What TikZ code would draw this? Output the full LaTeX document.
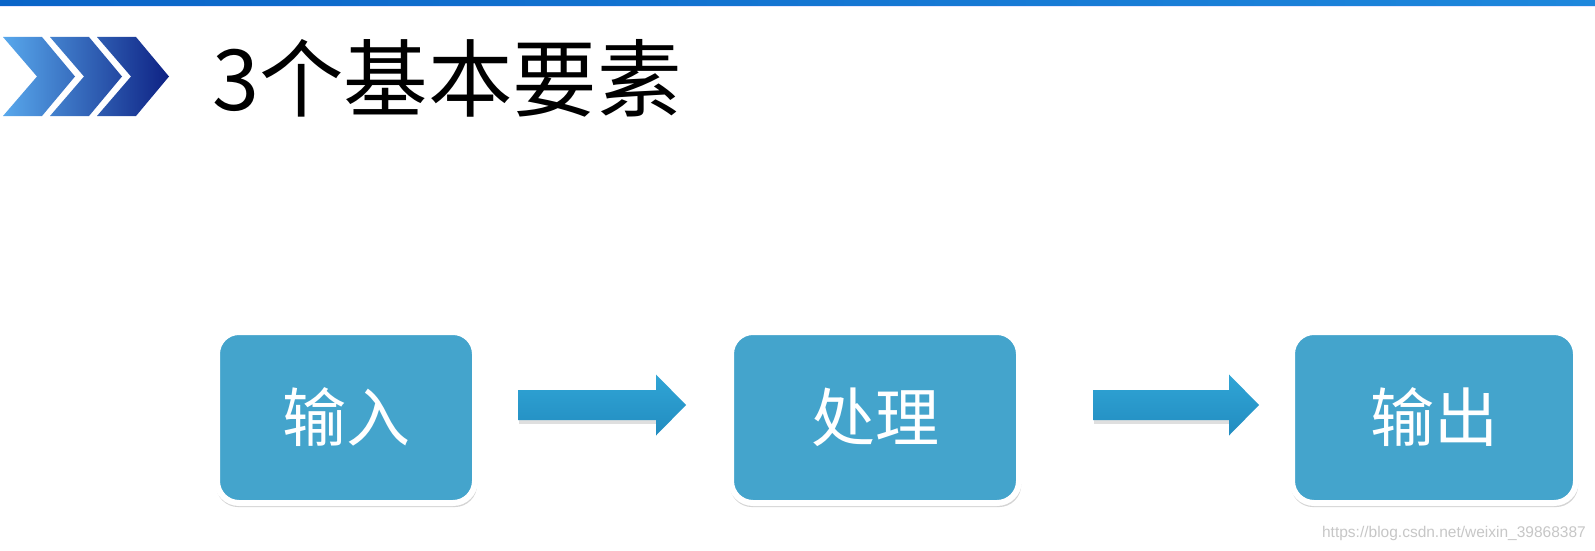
\documentclass[tikz,border=0pt]{standalone}
\usepackage{fontspec}
\newfontfamily\cjk{Noto Sans CJK SC}
\newfontfamily\wm{Liberation Sans}
\usetikzlibrary{shadows,calc}
\definecolor{boxblue}{RGB}{68,164,204}
\definecolor{arrowtop}{RGB}{48,165,214}
\definecolor{arrowbot}{RGB}{34,140,192}
\definecolor{barA}{RGB}{10,100,200}
\definecolor{barB}{RGB}{30,135,220}
\definecolor{chevA}{RGB}{88,168,236}
\definecolor{chevB}{RGB}{14,34,132}
\tikzset{
  stepbox/.style={fill=boxblue, draw=white, line width=6pt, rounded corners=22pt,
    inner sep=0pt, font=\cjk\fontsize{64}{64}\selectfont, text=white,
    drop shadow={shadow xshift=0.5pt, shadow yshift=-3pt, shadow scale=1.012, opacity=0.3, fill=black!55}},
  flowarrow/.style={top color=arrowtop, bottom color=arrowbot},
  arrowshadow/.style={fill=black!50, opacity=0.25}
}
\newcommand\blockarrow[2]{%
  \fill[arrowshadow] ($(#1)+(1,-12.5)$) -- ($(#2)+(-30,-12.5)$) -- ($(#2)+(-30,18.5)$) -- ($(#1)+(1,18.5)$) -- cycle;
  \shade[flowarrow] ($(#1)+(0,-15)$) -- ($(#2)+(-30,-15)$) -- ($(#2)+(-30,-30.5)$) -- (#2)
    -- ($(#2)+(-30,30.5)$) -- ($(#2)+(-30,15)$) -- ($(#1)+(0,15)$) -- cycle;}
\begin{document}
\begin{tikzpicture}[x=1pt,y=-1pt]
\useasboundingbox (0,0) rectangle (1595,551);
\fill[white] (0,0) rectangle (1595,551);
% top bar
\shade[left color=barA, right color=barB] (0,0) rectangle (1595,6);
\fill[blue!10] (0,6) rectangle (1595,7.5);
% chevrons
\shade[left color=chevA, right color=chevB]
  (3,37) -- (42,37) -- (75,76.5) -- (42,116) -- (3,116) -- (37,76.5) -- cycle
  (50,37) -- (89,37) -- (122,76.5) -- (89,116) -- (50,116) -- (84,76.5) -- cycle
  (97,37) -- (136,37) -- (169,76.5) -- (136,116) -- (97,116) -- (131,76.5) -- cycle;
% title
\node[font=\cjk\fontsize{84.5}{84.5}\selectfont, anchor=west, inner sep=0pt] (title) at (212,78) {3个基本要素};
% boxes
\node[stepbox, minimum width=258pt, minimum height=171pt] (b1) at (346,417.5) {输入};
\node[stepbox, minimum width=288pt, minimum height=171pt] (b2) at (875,417.5) {处理};
\node[stepbox, minimum width=284pt, minimum height=171pt] (b3) at (1434,417.5) {输出};
% arrows
\coordinate (a1s) at ($(b1.east)+(40,-12.5)$);
\coordinate (a1e) at ($(b2.west)+(-42,-12.5)$);
\coordinate (a2s) at ($(b2.east)+(71,-12.5)$);
\coordinate (a2e) at ($(b3.west)+(-30,-12.5)$);
\blockarrow{a1s}{a1e}
\blockarrow{a2s}{a2e}
% watermark
\node[font=\wm\fontsize{15.5}{16}\selectfont, text=black!22, anchor=east, inner sep=0pt] (wm) at (1586,533) {https://blog.csdn.net/weixin\_39868387};
\end{tikzpicture}
\end{document}
